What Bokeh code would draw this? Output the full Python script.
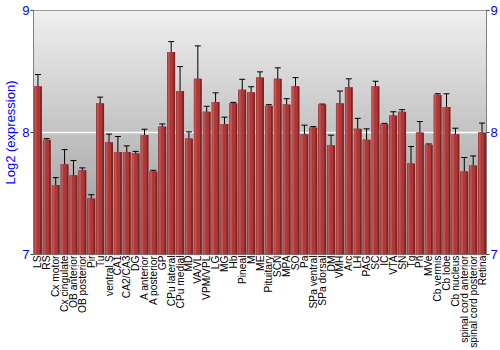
import numpy as np
from bokeh.plotting import figure
from bokeh.models import (ColumnDataSource, FactorRange, Range1d, LinearAxis,
                          Whisker, TeeHead, FixedTicker)
from bokeh.transform import dodge
from bokeh.embed import file_html
from bokeh.resources import INLINE

categories = ["LS", "RS", "Cx motor", "Cx cingulate", "OB anterior", "OB posterior",
              "Pir", "Tu", "ventral S", "CA1", "CA2/CA3", "DG", "A anterior",
              "A posterior", "GP", "CPu lateral", "CPu medial", "MD", "VA/VL",
              "VPM/VPL", "LG", "MG", "Hb", "Pineal", "M", "ME", "Pituitary", "SCN",
              "MPA", "SO", "Pa", "SPa ventral", "SPa dorsal", "DM", "VMH", "Arc",
              "LH", "PAG", "SC", "IC", "VTA", "SN", "Tg", "Pn", "MVe", "Cb vermis",
              "Cb lobe", "Cb nucleus", "spinal cord anterior", "spinal cord posterior",
              "Retina"]
values = [8.38, 7.94, 7.57, 7.74, 7.65, 7.69, 7.46, 8.24, 7.92, 7.84, 7.84, 7.83,
          7.98, 7.68, 8.05, 8.66, 8.34, 7.95, 8.44, 8.17, 8.25, 8.07, 8.24, 8.35,
          8.33, 8.45, 8.22, 8.44, 8.23, 8.38, 7.985, 8.04, 8.23, 7.895, 8.24, 8.37,
          8.03, 7.94, 8.38, 8.07, 8.14, 8.17, 7.745, 8.00, 7.90, 8.31, 8.21, 7.985,
          7.68, 7.73, 8.00]
errors = [0.095, 0.01, 0.06, 0.12, 0.12, 0.02, 0.03, 0.05, 0.067, 0.127, 0.05, 0.015,
          0.047, 0.01, 0.02, 0.085, 0.2, 0.055, 0.27, 0.045, 0.075, 0.056, 0.007,
          0.086, 0.045, 0.047, 0.008, 0.09, 0.047, 0.07, 0.075, 0.008, 0.003, 0.083,
          0.1, 0.07, 0.086, 0.09, 0.04, 0.005, 0.03, 0.017, 0.14, 0.09, 0.006, 0.008,
          0.107, 0.05, 0.115, 0.078, 0.077]
y_ticks = [7, 8, 9]

vals = np.array(values)
errs = np.array(errors)
src = ColumnDataSource(dict(cat=categories, val=vals, upper=vals + errs,
                            lower=vals - errs))

p = figure(width=500, height=350, output_backend="svg", toolbar_location=None,
           x_range=FactorRange(factors=categories, range_padding=0),
           y_range=Range1d(7, 9), min_border_left=0, min_border_right=2,
           min_border_top=10, min_border_bottom=0)
p.background_fill_color = "#c0c0c0"
p.outline_line_color = "#808080"

# background gradient (synthetic categorical coordinates span 0..N)
n = 200
g = np.linspace(150, 240, n).astype(np.uint8)
img = np.empty((n, 1), dtype=np.uint32)
view = img.view(dtype=np.uint8).reshape((n, 1, 4))
view[:, 0, 0] = g
view[:, 0, 1] = g
view[:, 0, 2] = g
view[:, 0, 3] = 255
p.image_rgba(image=[img], x=0, y=7, dw=len(categories), dh=2, level="image")

# bars
p.vbar(x="cat", top="val", bottom=7, width=0.9, source=src,
       fill_color="#7e2222", line_color=None)
p.vbar(x=dodge("cat", -0.08, range=p.x_range), top="val", bottom=7, width=0.66,
       source=src, fill_color="#ac3838", line_color=None)
p.vbar(x=dodge("cat", -0.27, range=p.x_range), top="val", bottom=7, width=0.22,
       source=src, fill_color="#c45252", line_color=None)

w = Whisker(source=src, base="cat", upper="upper", lower="lower",
            line_color="black", line_width=1,
            upper_head=TeeHead(size=6, line_color="black"),
            lower_head=TeeHead(size=6, line_color="black"))
p.add_layout(w)

# grids
p.xgrid.grid_line_color = None
p.ygrid.ticker = FixedTicker(ticks=[8])
p.ygrid.grid_line_color = "white"
p.ygrid.grid_line_width = 1.5

# y axes
p.yaxis.ticker = FixedTicker(ticks=y_ticks)
right = LinearAxis(ticker=FixedTicker(ticks=y_ticks))
p.add_layout(right, "right")
for ax in p.yaxis:
    ax.major_label_text_color = "blue"
    ax.major_label_text_font = "Liberation Sans"
    ax.major_label_text_font_size = "13px"
    ax.axis_line_color = "#808080"
    ax.major_tick_line_color = "#404040"
    ax.major_tick_in = 0
    ax.major_tick_out = 3
    ax.minor_tick_line_color = None
    ax.major_label_standoff = 1
p.yaxis[0].axis_label = "Log2 (expression)"
p.yaxis[0].axis_label_text_color = "blue"
p.yaxis[0].axis_label_text_font = "Liberation Sans"
p.yaxis[0].axis_label_text_font_style = "normal"
p.yaxis[0].axis_label_text_font_size = "13px"
p.yaxis[0].axis_label_standoff = 1

# x axis
p.xaxis.major_label_orientation = np.pi / 2
p.xaxis.major_label_text_font = "Liberation Sans"
p.xaxis.major_label_text_font_size = "10.25px"
p.xaxis.major_label_text_color = "black"
p.xaxis.axis_line_color = None
p.xaxis.major_tick_line_color = None
p.xaxis.major_tick_out = 0
p.xaxis.major_label_standoff = 1

open("out.html", "w").write(file_html(p, INLINE))
